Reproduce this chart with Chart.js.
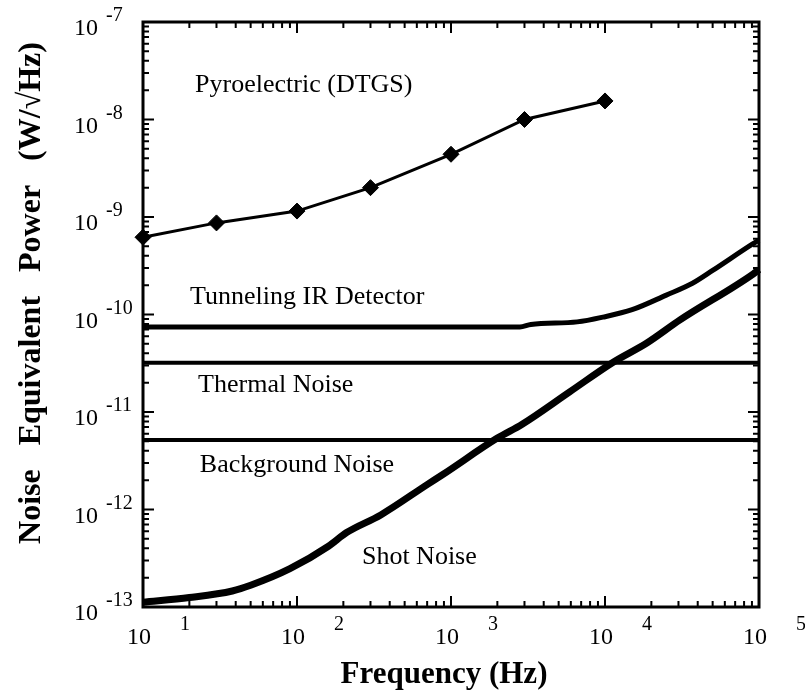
<!DOCTYPE html>
<html>
<head>
<meta charset="utf-8">
<script src="https://cdn.jsdelivr.net/npm/chart.js@4/dist/chart.umd.min.js"></script>
<style>
  html, body { margin: 0; padding: 0; background: #fff; }
  #wrap { width: 805px; height: 692px; }
</style>
</head>
<body>
<div id="wrap"><canvas id="nep" width="805" height="692"></canvas></div>
<script>
// values (log-log, Hz vs W/sqrt(Hz))
const pyroFreq = [10, 30, 100, 300, 1000, 3000, 10000]
const pyroNep = [6.2e-10, 8.7e-10, 1.15e-9, 2.0e-9, 4.4e-9, 1.0e-8, 1.55e-8]

const tunnelFreq = [10, 100, 1000, 2800, 3300, 6600, 9700, 15000, 25000, 37000, 50000, 91000, 100000]
const tunnelNep = [7.45e-11, 7.45e-11, 7.45e-11, 7.45e-11, 7.9e-11, 8.4e-11, 9.4e-11, 1.12e-10, 1.58e-10, 2.09e-10, 2.83e-10, 5.3e-10, 5.8e-10]

const thermalFreq = [10, 100000]
const thermalNep = [3.2e-11, 3.2e-11]

const backgroundFreq = [10, 100000]
const backgroundNep = [5.15e-12, 5.15e-12]

const shotFreq = [10, 20, 38, 50, 90, 160, 210, 350, 700, 890, 2000, 2900, 5900, 11300, 18700, 30700, 91500, 100000]
const shotNep = [1.12e-13, 1.25e-13, 1.46e-13, 1.67e-13, 2.47e-13, 4.2e-13, 5.8e-13, 8.8e-13, 1.8e-12, 2.3e-12, 5.4e-12, 7.5e-12, 1.61e-11, 3.24e-11, 5.1e-11, 8.8e-11, 2.6e-10, 2.9e-10]

// axis decades (tick labels are 10^n)
const xDecades = [1, 2, 3, 4, 5]
const yDecades = [-13, -12, -11, -10, -9, -8, -7]

const xTitle = 'Frequency (Hz)'
const yTitle = 'Noise   Equivalent   Power   (W/\u221AHz)'

// curve names written inside the plot, anchored in data coordinates
const curveNames = ['Pyroelectric (DTGS)', 'Tunneling IR Detector', 'Thermal Noise', 'Background Noise', 'Shot Noise']
const nameFreq = [21.8, 20.2, 22.8, 23.4, 264]
const nameNep = [1.93e-8, 1.27e-10, 1.62e-11, 2.45e-12, 2.73e-13]

const pts = (xs, ys) => xs.map((x, i) => ({ x: x, y: ys[i] }))

const serif = '"Liberation Serif", "Times New Roman", serif'

const decorations = {
  id: 'decorations',
  afterDatasetsDraw(chart) {
    const { ctx, chartArea: a, scales: { x, y } } = chart
    ctx.save()
    ctx.strokeStyle = '#000'
    ctx.fillStyle = '#000'

    // frame
    ctx.lineWidth = 3
    ctx.strokeRect(a.left, a.top, a.right - a.left, a.bottom - a.top)

    // inward tick marks on all four sides
    ctx.lineWidth = 2
    ctx.beginPath()
    xDecades.forEach((e, i) => {
      for (let k = 1; k <= 9; k++) {
        if (k > 1 && i === xDecades.length - 1) break
        const px = x.getPixelForValue(k * Math.pow(10, e))
        const len = k === 1 ? 11 : 6
        ctx.moveTo(px, a.bottom); ctx.lineTo(px, a.bottom - len)
        ctx.moveTo(px, a.top); ctx.lineTo(px, a.top + len)
      }
    })
    yDecades.forEach((e, i) => {
      for (let k = 1; k <= 9; k++) {
        if (k > 1 && i === yDecades.length - 1) break
        const py = y.getPixelForValue(k * Math.pow(10, e))
        const len = k === 1 ? 11 : 6
        ctx.moveTo(a.left, py); ctx.lineTo(a.left + len, py)
        ctx.moveTo(a.right, py); ctx.lineTo(a.right - len, py)
      }
    })
    ctx.stroke()

    // tick labels: "10" with the exponent raised to the right
    ctx.textBaseline = 'middle'
    xDecades.forEach(e => {
      const px = x.getPixelForValue(Math.pow(10, e))
      ctx.textAlign = 'center'
      ctx.font = '24px ' + serif
      ctx.fillText('10', px - 4, a.bottom + 31)
      ctx.font = '20px ' + serif
      ctx.fillText(String(e), px + 42, a.bottom + 18)
    })
    yDecades.forEach(e => {
      const py = y.getPixelForValue(Math.pow(10, e))
      ctx.textAlign = 'right'
      ctx.font = '24px ' + serif
      ctx.fillText('10', a.left - 45, py + 7)
      ctx.textAlign = 'left'
      ctx.font = '20px ' + serif
      ctx.fillText(String(e), a.left - 37, py - 6)
    })

    // curve names
    ctx.textAlign = 'left'
    ctx.textBaseline = 'alphabetic'
    ctx.font = '26px ' + serif
    curveNames.forEach((t, i) => {
      ctx.fillText(t, x.getPixelForValue(nameFreq[i]), y.getPixelForValue(nameNep[i]))
    })

    // axis titles
    ctx.textAlign = 'center'
    ctx.textBaseline = 'middle'
    ctx.font = 'bold 31px ' + serif
    ctx.fillText(xTitle, (a.left + a.right) / 2 - 7, 675)
    ctx.font = 'bold 32px ' + serif
    ctx.translate(32, 293)
    ctx.rotate(-Math.PI / 2)
    ctx.fillText(yTitle, 0, 0)
    ctx.restore()
  }
}

const lineSet = (data, width, extra) => Object.assign({
  data: data,
  borderColor: '#000',
  backgroundColor: '#000',
  borderWidth: width,
  pointRadius: 0,
  fill: false,
  clip: false,
}, extra || {})

new Chart(document.getElementById('nep'), {
  type: 'line',
  data: {
    datasets: [
      lineSet(pts(pyroFreq, pyroNep), 3, { pointRadius: 8, pointStyle: 'rectRot', pointBorderWidth: 1 }),
      lineSet(pts(tunnelFreq, tunnelNep), 5, { cubicInterpolationMode: 'monotone' }),
      lineSet(pts(thermalFreq, thermalNep), 4),
      lineSet(pts(backgroundFreq, backgroundNep), 4),
      lineSet(pts(shotFreq, shotNep), 7, { cubicInterpolationMode: 'monotone' }),
    ],
  },
  options: {
    responsive: false,
    animation: false,
    layout: { padding: { left: 143, right: 46, top: 22, bottom: 85 } },
    plugins: {
      legend: { display: false },
      tooltip: { enabled: false },
    },
    scales: {
      x: { type: 'logarithmic', min: 10, max: 100000, display: false },
      y: { type: 'logarithmic', min: 1e-13, max: 1e-7, display: false },
    },
  },
  plugins: [decorations],
})
</script>
</body>
</html>
